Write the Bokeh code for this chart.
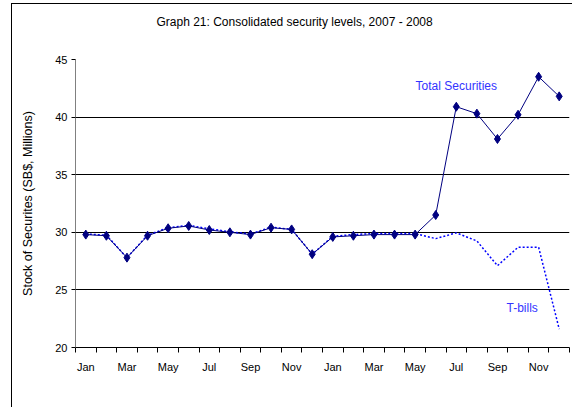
from bokeh.plotting import figure
from bokeh.models import FixedTicker, Label, Range1d
from bokeh.embed import file_html
from bokeh.resources import INLINE

months = ["Jan", "Feb", "Mar", "Apr", "May", "Jun", "Jul", "Aug", "Sep", "Oct", "Nov", "Dec"] * 2
total_securities = [29.8, 29.7, 27.8, 29.7, 30.35, 30.55, 30.2, 30.0, 29.8, 30.4, 30.25, 28.1,
                    29.6, 29.7, 29.8, 29.8, 29.8, 31.5, 40.9, 40.3, 38.1, 40.2, 43.5, 41.8]
t_bills = [29.85, 29.75, 27.8, 29.75, 30.4, 30.6, 30.3, 30.05, 29.85, 30.45, 30.25, 28.1,
           29.65, 29.8, 29.9, 29.9, 29.9, 29.45, 29.95, 29.25, 27.1, 28.7, 28.7, 21.6]
y_ticks = [20, 25, 30, 35, 40, 45]
title_text = "Graph 21: Consolidated security levels, 2007 - 2008"
y_label = "Stock of Securites (SB$, Millions)"

x = list(range(len(months)))

FONT = "Liberation Sans"

p = figure(width=561, height=404, output_backend="svg", toolbar_location=None,
           x_range=Range1d(-0.5, len(months) - 0.5), y_range=Range1d(20, 45),
           min_border_left=63, min_border_right=4, min_border_top=55, min_border_bottom=61)
p.margin = (3, 0, 0, 11)
p.styles = {"border-left": "1px solid #000000", "border-top": "1px solid #000000"}

# title: a blank second line lifts the visible line away from the frame
p.title.text = title_text + "\n "
p.title.text_font = FONT
p.title.text_font_size = "12px"
p.title.text_font_style = "normal"
p.title.text_color = "#000000"
p.title.text_line_height = 1.4
p.title.align = "left"
p.title.vertical_align = "middle"
p.title.offset = 81
p.title.standoff = 19

p.outline_line_color = None
p.background_fill_color = "white"
p.border_fill_color = "white"

# grid
p.xgrid.grid_line_color = None
p.ygrid.ticker = FixedTicker(ticks=y_ticks[1:])
p.ygrid.grid_line_color = "#000000"
p.ygrid.grid_line_width = 1

# y axis
p.yaxis.ticker = FixedTicker(ticks=y_ticks)
p.yaxis.axis_line_color = "#808080"
p.yaxis.major_tick_line_color = "#000000"
p.yaxis.major_tick_out = 4
p.yaxis.major_tick_in = 0
p.yaxis.minor_tick_line_color = None
p.yaxis.major_label_text_font = FONT
p.yaxis.major_label_text_font_size = "11px"
p.yaxis.major_label_text_color = "#000000"
p.yaxis.major_label_standoff = 4
p.yaxis.axis_label = y_label
p.yaxis.axis_label_text_font = FONT
p.yaxis.axis_label_text_font_size = "12.5px"
p.yaxis.axis_label_text_font_style = "normal"
p.yaxis.axis_label_text_color = "#000000"
p.yaxis.axis_label_standoff = 17

# x axis
label_pos = [i for i in x if i % 2 == 0]
boundaries = [i - 0.5 for i in range(len(months) + 1)]
p.xaxis.ticker = FixedTicker(ticks=label_pos, minor_ticks=boundaries)
p.xaxis.major_label_overrides = {i: months[i] for i in label_pos}
p.xaxis.axis_line_color = "#000000"
p.xaxis.major_tick_line_color = None
p.xaxis.major_tick_out = 5
p.xaxis.major_tick_in = 0
p.xaxis.minor_tick_line_color = "#000000"
p.xaxis.minor_tick_out = 5
p.xaxis.minor_tick_in = 0
p.xaxis.major_label_text_font = FONT
p.xaxis.major_label_text_font_size = "11px"
p.xaxis.major_label_text_color = "#000000"
p.xaxis.major_label_standoff = 8

# series
p.line(x, t_bills, line_color="#0000FF", line_width=1.5, line_dash="2 2")
p.line(x, total_securities, line_color="#000080", line_width=1)
p.scatter(x, total_securities, marker="diamond", size=9, fill_color="#000080", line_color="#000080")

p.add_layout(Label(x=18.0, y=42.7, text="Total Securities", text_font=FONT, text_font_size="12px",
                   text_color="#3333FF", text_align="center", text_baseline="middle"))
p.add_layout(Label(x=21.2, y=23.45, text="T-bills", text_font=FONT, text_font_size="12px",
                   text_color="#3333FF", text_align="center", text_baseline="middle"))

open("out.html", "w").write(file_html(p, INLINE))
